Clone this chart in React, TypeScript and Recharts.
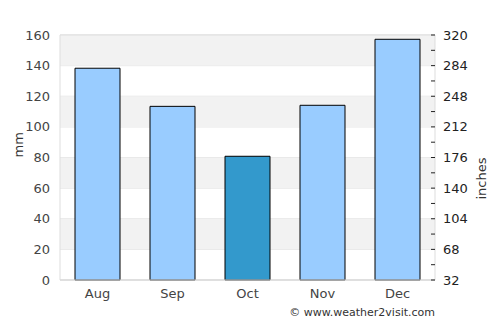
import React from "react"
import { BarChart, Bar, Cell, XAxis, YAxis, CartesianGrid, ReferenceArea } from "recharts"

// monthly rainfall, mm
const months = ["Aug", "Sep", "Oct", "Nov", "Dec"]
const rainfall = [138.3, 113.4, 80.8, 114.1, 157.2]
const highlightMonth = "Oct"

const mmTicks = [0, 20, 40, 60, 80, 100, 120, 140, 160]
const inchTicks = [32, 50, 68, 86, 104, 122, 140, 158, 176, 194, 212, 230, 248, 266, 284, 302, 320]
const inchLabels = [32, 68, 104, 140, 176, 212, 248, 284, 320]
const bands = [
  [140, 160],
  [100, 120],
  [60, 80],
  [20, 40],
]

const data = months.map((m, i) => ({ month: m, mm: rainfall[i] }))

const FONT = "'DejaVu Sans', sans-serif"

function InchTick(props: any) {
  const { x, y, payload } = props
  const major = inchLabels.includes(payload.value)
  return (
    <g>
      <line x1={x - 4} x2={x} y1={y} y2={y} stroke="#222" strokeWidth={1} />
      {major && (
        <text x={x + 8} y={y} dy="0.35em" textAnchor="start" fill="#222" fontSize={13} fontFamily={FONT}>
          {payload.value}
        </text>
      )}
    </g>
  )
}

export default function App() {
  return (
    <div style={{ position: "relative", width: 500, height: 325, fontFamily: FONT }}>
      <style>{`body{margin:0}`}</style>
      <BarChart
        width={500}
        height={325}
        data={data}
        margin={{ top: 35, right: 0, bottom: 15, left: 0 }}
        barCategoryGap="20%"
      >
        {bands.map(([a, b]) => (
          <ReferenceArea key={a} yAxisId="mm" y1={a} y2={b} fill="#f2f2f2" fillOpacity={1} stroke="none" />
        ))}
        <CartesianGrid yAxisId="mm" vertical={false} stroke="#e0e0e0" />
        <ReferenceArea yAxisId="mm" y1={0} y2={160} fill="none" stroke="#dddddd" />
        <XAxis
          dataKey="month"
          axisLine={{ stroke: "#d8d8d8" }}
          tickLine={false}
          tickSize={0}
          tickMargin={9}
          height={30}
          tick={{ fill: "#444", fontSize: 13, fontFamily: FONT }}
        />
        <YAxis
          yAxisId="mm"
          width={60}
          domain={[0, 160]}
          ticks={mmTicks}
          axisLine={false}
          tickLine={false}
          tickSize={0}
          tickMargin={10}
          tick={{ fill: "#444", fontSize: 13, fontFamily: FONT }}
          label={{ value: "mm", angle: -90, position: "insideLeft", offset: 18, fill: "#333", fontSize: 13, fontFamily: FONT }}
        />
        <YAxis
          yAxisId="in"
          orientation="right"
          type="number"
          width={65}
          domain={[32, 320]}
          allowDataOverflow
          ticks={inchTicks}
          interval={0}
          axisLine={false}
          tickLine={false}
          tickSize={0}
          tickMargin={0}
          tick={<InchTick />}
          label={{ value: "inches", angle: -90, position: "insideRight", offset: 19, fill: "#333", fontSize: 13, fontFamily: FONT }}
        />
        <Bar yAxisId="mm" dataKey="mm" stroke="#000" strokeWidth={1} isAnimationActive={false}>
          {data.map((d) => (
            <Cell key={d.month} fill={d.month === highlightMonth ? "#3399cc" : "#99ccff"} />
          ))}
        </Bar>
      </BarChart>
      <div
        style={{
          position: "absolute",
          right: 65,
          top: 306,
          fontSize: 11,
          color: "#333",
          fontFamily: FONT,
          whiteSpace: "nowrap",
        }}
      >
        © www.weather2visit.com
      </div>
    </div>
  )
}
